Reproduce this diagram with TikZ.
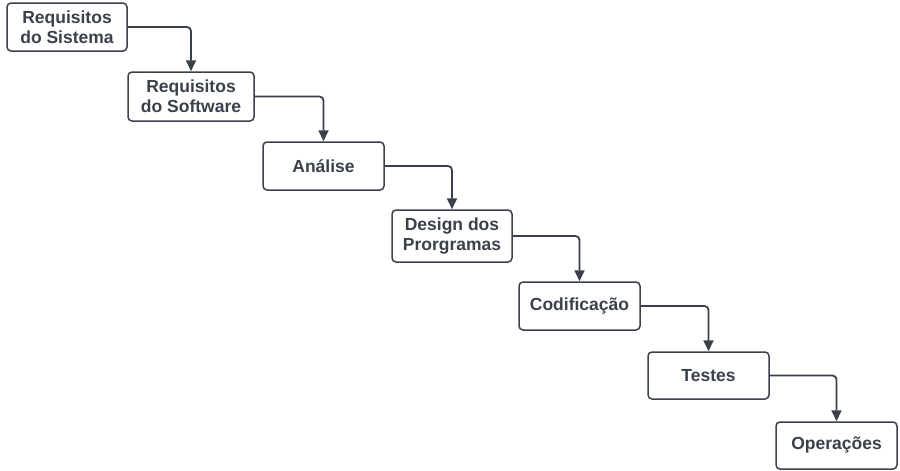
\documentclass[tikz,border=0pt]{standalone}
\usepackage{fontspec}
\setmainfont{Liberation Sans}
\usetikzlibrary{arrows.meta}
\definecolor{ink}{HTML}{3A414B}
\tikzset{
  stage/.style={draw=ink, line width=1.5pt, rounded corners=4pt, fill=white,
    text=ink, font=\fontsize{17.5}{20}\selectfont\bfseries, align=center,
    inner sep=0pt, minimum width=#1},
  stage/.default=121pt,
  flow/.style={draw=ink, line width=1.8pt, rounded corners=4pt,
    -{Triangle[width=10pt,length=11pt]}}
}
\begin{document}
\begin{tikzpicture}[x=1pt,y=-1pt]
\useasboundingbox[fill=white] (0,0) rectangle (900,471);
\node[stage=120pt, minimum height=48pt] (s1) at (67,27) {Requisitos\\do Sistema};
\node[stage=126pt, minimum height=49pt] (s2) at (191,96.5) {Requisitos\\do Software};
\node[stage, minimum height=48pt] (s3) at (323.5,166) {Análise};
\node[stage=120pt, minimum height=52pt] (s4) at (452,236) {Design dos\\Prorgramas};
\node[stage, minimum height=48pt] (s5) at (579.5,306) {Codificação};
\node[stage, minimum height=47pt] (s6) at (708.5,375.5) {Testes};
\node[stage, minimum height=47pt] (s7) at (836.5,445.5) {Operações};
\draw[flow] (s1.east) -| (s2.north);
\draw[flow] (s2.east) -| (s3.north);
\draw[flow] (s3.east) -| (s4.north);
\draw[flow] (s4.east) -| (s5.north);
\draw[flow] (s5.east) -| (s6.north);
\draw[flow] (s6.east) -| (s7.north);
\end{tikzpicture}
\end{document}
